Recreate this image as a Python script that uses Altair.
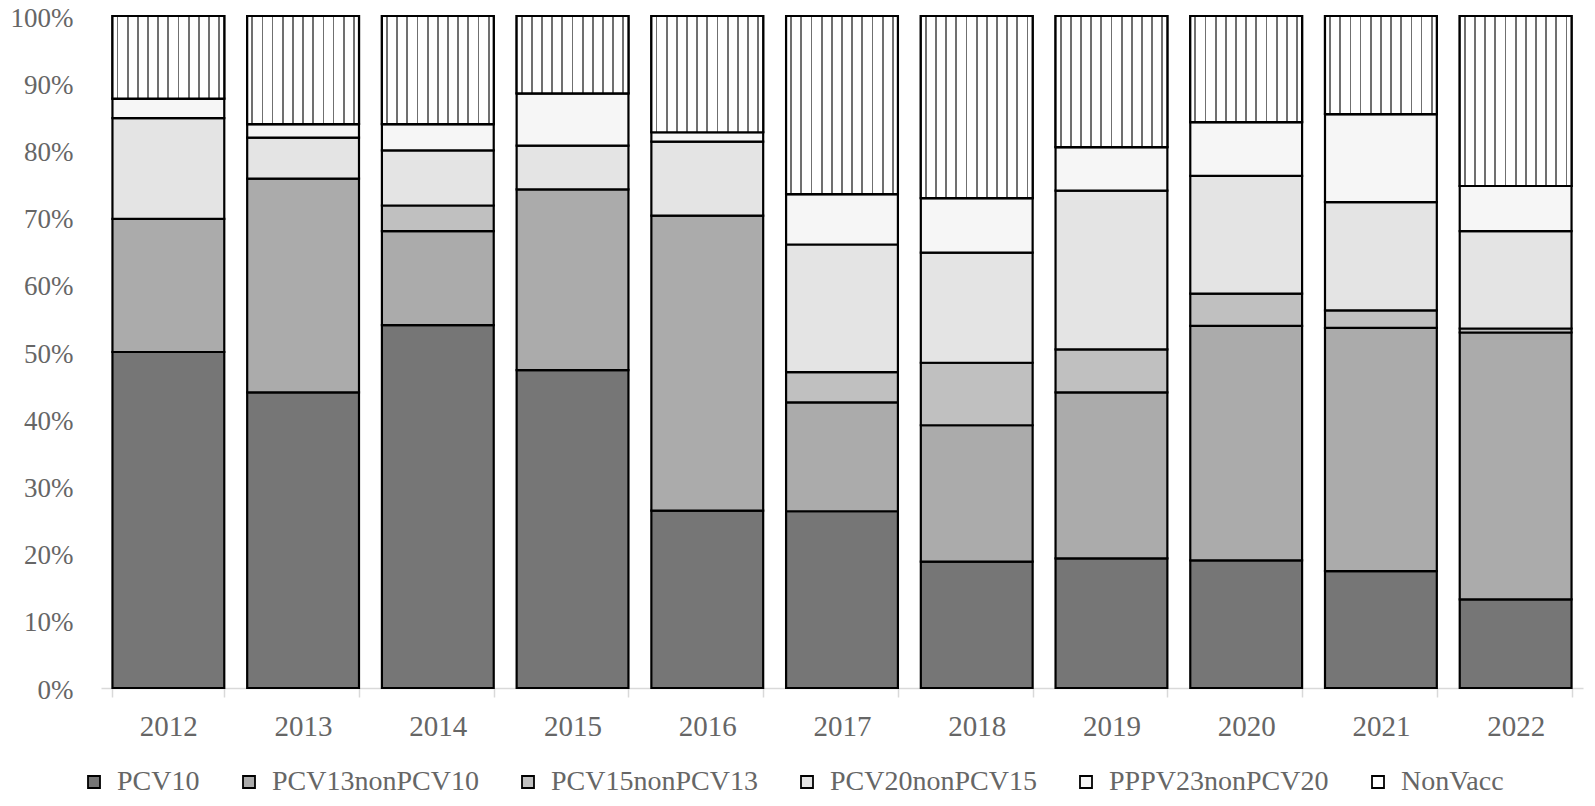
import altair as alt
import pandas as pd

years = ["2012", "2013", "2014", "2015", "2016", "2017", "2018", "2019", "2020", "2021", "2022"]
categories = ["PCV10", "PCV13nonPCV10", "PCV15nonPCV13", "PCV20nonPCV15", "PPPV23nonPCV20", "NonVacc"]

pcv10 = [50.0, 44.0, 54.0, 47.3, 26.4, 26.3, 18.8, 19.3, 19.0, 17.4, 13.2]
pcv13 = [19.8, 31.8, 14.0, 26.9, 43.9, 16.2, 20.3, 24.7, 34.9, 36.2, 39.7]
pcv15 = [0.0, 0.0, 3.8, 0.0, 0.0, 4.5, 9.3, 6.4, 4.8, 2.6, 0.6]
pcv20 = [15.0, 6.1, 8.2, 6.5, 11.0, 19.0, 16.4, 23.6, 17.5, 16.1, 14.5]
pppv23 = [2.9, 2.0, 3.9, 7.8, 1.4, 7.5, 8.1, 6.5, 8.0, 13.1, 6.7]
nonvacc = [12.3, 16.1, 16.1, 11.5, 17.3, 26.5, 27.1, 19.5, 15.8, 14.6, 25.3]

series = [pcv10, pcv13, pcv15, pcv20, pppv23, nonvacc]

rows = []
for ci, (cat, vals) in enumerate(zip(categories, series)):
    for yr, v in zip(years, vals):
        if v > 0:
            rows.append({"year": yr, "cat": cat, "order": ci, "value": v})
df = pd.DataFrame(rows)

fills = ["#767676", "#ababab", "#c0c0c0", "#e4e4e4", "#f6f6f6", "#ffffff"]
FONT = "Liberation Serif"
TXT = "#666666"

# vertical-dash texture for NonVacc (horizontal gradient -> vertical stripes)
stops = [alt.GradientStop(color="white", offset=0)]
n_stripes = 11
w = 1.8 / 112
for k in range(n_stripes):
    c = (k + 0.5) / n_stripes
    stops += [
        alt.GradientStop(color="white", offset=c - w / 2),
        alt.GradientStop(color="#707070", offset=c - w / 2),
        alt.GradientStop(color="#707070", offset=c + w / 2),
        alt.GradientStop(color="white", offset=c + w / 2),
    ]
stops.append(alt.GradientStop(color="white", offset=1))
stripe_fill = alt.LinearGradient(gradient="linear", stops=stops, x1=0, x2=1, y1=0, y2=0)

x_enc = alt.X(
    "year:N",
    scale=alt.Scale(paddingInner=0.17, paddingOuter=0.085),
    axis=alt.Axis(
        title=None, labelAngle=0, tickBand="extent",
        domainColor="#d9d9d9", domainWidth=1.5,
        tickColor="#d9d9d9", tickWidth=1.5, tickSize=9,
        labelPadding=15, labelFontSize=29, labelFont=FONT, labelColor=TXT,
    ),
)
y_scale = alt.Scale(domain=[0, 1], nice=False)

base = alt.Chart(df).transform_stack(
    stack="value",
    groupby=["year"],
    sort=[alt.SortField("order", order="ascending")],
    as_=["y0", "y1"],
    offset="normalize",
)

bars = base.mark_bar(stroke="black", strokeWidth=2.2).encode(
    x=x_enc,
    y=alt.Y(
        "y0:Q", scale=y_scale,
        axis=alt.Axis(
            title=None, format="%", values=[i / 10 for i in range(11)],
            domain=False, ticks=False, grid=False, labelOffset=2,
            labelPadding=28, labelFontSize=27, labelFont=FONT, labelColor=TXT,
        ),
    ),
    y2="y1:Q",
    color=alt.Color(
        "cat:N",
        scale=alt.Scale(domain=categories, range=fills),
        legend=alt.Legend(
            title=None, orient="none", legendX=-21, legendY=752,
            direction="horizontal", columns=6,
            symbolType="square", symbolSize=144,
            symbolStrokeColor="black", symbolStrokeWidth=1.8,
            labelFontSize=28, labelFont=FONT, labelColor=TXT,
            labelOffset=9, columnPadding=35, padding=0, labelLimit=500,
        ),
    ),
)

stripes = base.transform_filter(alt.datum.cat == "NonVacc").mark_bar(
    fill=stripe_fill, stroke="black", strokeWidth=2.2
).encode(
    x=alt.X("year:N"),
    y=alt.Y("y0:Q", scale=y_scale),
    y2="y1:Q",
)

chart = alt.layer(bars, stripes).properties(
    width=1482,
    height=672,
    padding={"left": 93, "top": 8, "right": 3, "bottom": 110},
    autosize=alt.AutoSizeParams(type="none"),
).configure_view(stroke=None)

chart.save("out.html", embed_options={"renderer": "svg", "actions": False})
